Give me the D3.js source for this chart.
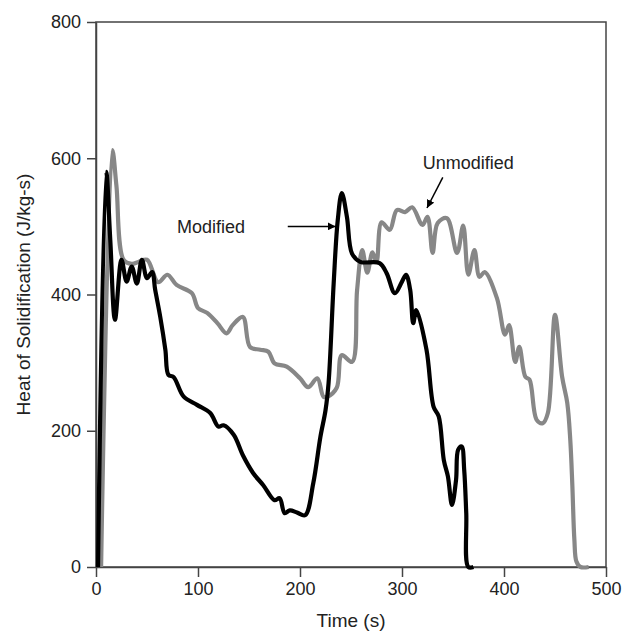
<!DOCTYPE html>
<html>
<head>
<meta charset="utf-8">
<script src="https://cdn.jsdelivr.net/npm/d3@7"></script>
<style>
  body { margin: 0; background: #fff; }
  text { font-family: "Liberation Sans", Arial, sans-serif; fill: #222; }
</style>
</head>
<body>
<div id="chart"></div>
<script>
// time (s) / heat of solidification (J/kg-s)
const unmodTime = [5, 16, 20, 27, 35, 42, 50, 61, 70, 79, 94, 100, 109, 119, 128, 134, 144, 151, 161, 169, 175, 187, 200, 208, 217, 223, 227, 236, 241, 251, 256, 261, 266, 271, 275, 280, 288, 295, 303, 310, 320, 325, 330, 335, 344, 354, 360, 365, 371, 376, 381, 393, 401, 405, 411, 415, 421, 425, 432, 438, 443, 450, 457, 462, 465, 467, 469, 471, 475, 483]
const unmodValue = [0, 612, 560, 451, 445, 448, 451, 418, 429, 414, 402, 380, 373, 358, 343, 355, 367, 323, 319, 316, 299, 294, 277, 264, 277, 250, 250, 263, 311, 301, 407, 465, 432, 462, 448, 506, 495, 524, 521, 528, 502, 514, 461, 505, 512, 461, 501, 429, 465, 426, 433, 395, 341, 355, 301, 323, 279, 275, 216, 211, 226, 370, 279, 241, 186, 120, 40, 8, 0, 0]

const modTime = [2, 10, 14, 18.6, 25, 30, 35, 40, 45, 50, 55, 58, 63, 68, 71, 76, 86, 99, 112, 120, 125, 135, 144, 154, 164, 175, 180, 185, 190, 197, 205, 213, 220, 225, 228, 233, 237, 241, 246, 251, 259, 278, 285, 293, 300, 304, 308, 311, 314, 324, 331, 336, 341, 345, 349, 353, 355, 358.5, 361, 363, 365, 370]
const modValue = [0, 580, 480, 363, 451, 419, 441, 416, 451, 424, 433, 407, 367, 319, 282, 279, 250, 238, 226, 206, 208, 194, 164, 138, 120, 98, 101, 79, 83, 80, 76, 123, 191, 230, 270, 416, 509, 549, 514, 460, 448, 446, 431, 402, 419, 429, 407, 358, 377, 319, 235, 221, 157, 133, 91, 128, 172, 177, 142, 79, 0, 0]

const xTicks = [0, 100, 200, 300, 400, 500]
const yTicks = [0, 200, 400, 600, 800]

const width = 626, height = 634
const margin = { top: 22, right: 20, bottom: 67, left: 96 }

const svg = d3.select("#chart").append("svg")
  .attr("width", width)
  .attr("height", height)

const x = d3.scaleLinear().domain([0, 500]).range([margin.left, width - margin.right])
const y = d3.scaleLinear().domain([0, 800]).range([height - margin.bottom, margin.top])

// frame
svg.append("rect")
  .attr("x", x(0)).attr("y", y(800))
  .attr("width", x(500) - x(0)).attr("height", y(0) - y(800))
  .attr("fill", "none").attr("stroke", "#444").attr("stroke-width", 1.5)

const xAxis = svg.append("g")
  .attr("transform", `translate(0,${y(0)})`)
  .call(d3.axisBottom(x).tickValues(xTicks).tickSize(10).tickSizeOuter(0).tickPadding(5))
const yAxis = svg.append("g")
  .attr("transform", `translate(${x(0)},0)`)
  .call(d3.axisLeft(y).tickValues(yTicks).tickSize(9).tickSizeOuter(0).tickPadding(6))

;[xAxis, yAxis].forEach(g => {
  g.select(".domain").attr("stroke", "#444").attr("stroke-width", 1.5)
  g.selectAll(".tick line").attr("stroke", "#444").attr("stroke-width", 1.5)
  g.selectAll(".tick text").attr("font-size", 18).attr("fill", "#222")
    .style("font-family", '"Liberation Sans", Arial, sans-serif')
})

const line = d3.line().curve(d3.curveCatmullRom.alpha(0.5)).x(d => x(d[0])).y(d => y(d[1]))

svg.append("path")
  .datum(d3.zip(unmodTime, unmodValue))
  .attr("fill", "none").attr("stroke", "#878787").attr("stroke-width", 4.2)
  .attr("stroke-linejoin", "round").attr("d", line)

svg.append("path")
  .datum(d3.zip(modTime, modValue))
  .attr("fill", "none").attr("stroke", "#000").attr("stroke-width", 4.2)
  .attr("stroke-linejoin", "round").attr("d", line)

// annotations
svg.append("defs").append("marker")
  .attr("id", "arrow")
  .attr("viewBox", "0 0 10 10")
  .attr("refX", 10).attr("refY", 5)
  .attr("markerWidth", 8).attr("markerHeight", 8)
  .attr("markerUnits", "userSpaceOnUse")
  .attr("orient", "auto")
  .append("path").attr("d", "M0,0L10,5L0,10z").attr("fill", "#000")

svg.append("line")
  .attr("x1", x(188)).attr("y1", y(500)).attr("x2", x(235)).attr("y2", y(500))
  .attr("stroke", "#000").attr("stroke-width", 1.5).attr("marker-end", "url(#arrow)")
svg.append("text")
  .attr("x", x(112.7)).attr("y", y(500)).attr("dy", "0.35em")
  .attr("text-anchor", "middle").attr("font-size", 18).text("Modified")

svg.append("line")
  .attr("x1", x(340)).attr("y1", y(572)).attr("x2", x(324.5)).attr("y2", y(527))
  .attr("stroke", "#000").attr("stroke-width", 1.5).attr("marker-end", "url(#arrow)")
svg.append("text")
  .attr("x", x(365)).attr("y", y(593)).attr("dy", "0.35em")
  .attr("text-anchor", "middle").attr("font-size", 18).text("Unmodified")

// axis titles
svg.append("text")
  .attr("x", (x(0) + x(500)) / 2).attr("y", 627)
  .attr("text-anchor", "middle").attr("font-size", 19).text("Time (s)")
svg.append("text")
  .attr("transform", `translate(30,${(y(0) + y(800)) / 2}) rotate(-90)`)
  .attr("text-anchor", "middle").attr("font-size", 19).text("Heat of Solidification (J/kg-s)")
</script>
</body>
</html>
